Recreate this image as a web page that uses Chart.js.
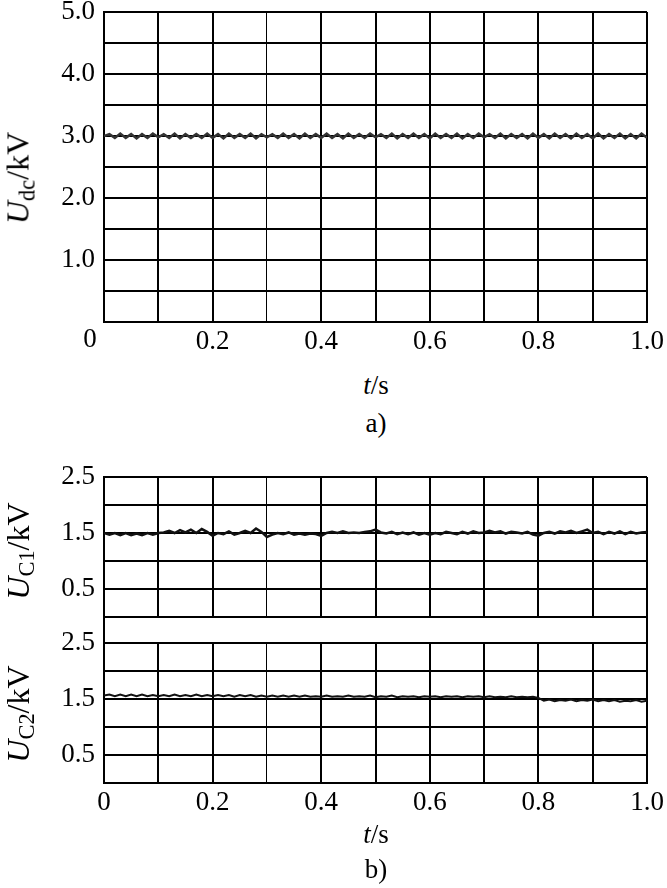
<!DOCTYPE html>
<html>
<head>
<meta charset="utf-8">
<script src="https://cdn.jsdelivr.net/npm/chart.js@4/dist/chart.umd.min.js"></script>
<style>
  body { margin: 0; background: #fff; width: 667px; height: 888px; position: relative; overflow: hidden;
         font-family: "Liberation Serif", "DejaVu Serif", serif; color: #000; }
  canvas { position: absolute; left: 0; }
  .lbl { position: absolute; transform: translate(-50%, -50%); font-size: 27px; white-space: nowrap; line-height: 1; }
  .ytitle { position: absolute; transform: translate(-50%, -50%) rotate(-90deg); font-size: 32px; white-space: nowrap; line-height: 1; }
  .ytitle sub { font-size: 0.7em; vertical-align: -0.25em; }
  #gap { position: absolute; left: 103px; top: 617px; width: 545px; height: 26px; box-sizing: border-box;
         border-left: 2px solid #000; border-right: 2px solid #000; }
</style>
</head>
<body>
<canvas id="dcChart" width="667" height="360" style="top:0"></canvas>
<canvas id="c1Chart" width="667" height="160" style="top:460px"></canvas>
<canvas id="c2Chart" width="667" height="205" style="top:625px"></canvas>
<div id="gap"></div>

<div class="ytitle" style="left:20px;top:178px"><i>U</i><sub>dc</sub>/kV</div>
<div class="lbl" style="left:90px;top:338px">0</div>
<div class="lbl" style="left:376px;top:385px"><i>t</i>/s</div>
<div class="lbl" style="left:376px;top:423px">a)</div>

<div class="ytitle" style="left:20px;top:551px"><i>U</i><sub>C1</sub>/kV</div>
<div class="ytitle" style="left:20px;top:714px"><i>U</i><sub>C2</sub>/kV</div>
<div class="lbl" style="left:376px;top:834px"><i>t</i>/s</div>
<div class="lbl" style="left:376px;top:869px">b)</div>

<script>
// time base (s)
const time = [0,0.01,0.02,0.03,0.04,0.05,0.06,0.07,0.08,0.09,0.1,
  0.11,0.12,0.13,0.14,0.15,0.16,0.17,0.18,0.19,0.2,
  0.21,0.22,0.23,0.24,0.25,0.26,0.27,0.28,0.29,0.3,
  0.31,0.32,0.33,0.34,0.35,0.36,0.37,0.38,0.39,0.4,
  0.41,0.42,0.43,0.44,0.45,0.46,0.47,0.48,0.49,0.5,
  0.51,0.52,0.53,0.54,0.55,0.56,0.57,0.58,0.59,0.6,
  0.61,0.62,0.63,0.64,0.65,0.66,0.67,0.68,0.69,0.7,
  0.71,0.72,0.73,0.74,0.75,0.76,0.77,0.78,0.79,0.8,
  0.81,0.82,0.83,0.84,0.85,0.86,0.87,0.88,0.89,0.9,
  0.91,0.92,0.93,0.94,0.95,0.96,0.97,0.98,0.99,1.0];

// DC link voltage (kV)
const udc = [3.00,3.03,2.97,3.04,2.97,3.03,2.96,3.03,2.97,3.04,2.98,
  3.03,2.97,3.04,2.96,3.03,2.97,3.03,2.97,3.04,2.97,
  3.03,2.96,3.04,2.97,3.03,2.97,3.04,2.96,3.03,2.98,
  3.03,2.97,3.04,2.97,3.03,2.96,3.04,2.97,3.03,2.97,
  3.04,2.97,3.03,2.96,3.04,2.97,3.03,2.97,3.04,2.98,
  3.03,2.97,3.04,2.96,3.03,2.97,3.04,2.97,3.03,2.96,
  3.04,2.97,3.03,2.97,3.04,2.96,3.03,2.97,3.04,2.98,
  3.03,2.97,3.04,2.96,3.03,2.97,3.03,2.96,3.04,2.97,
  3.03,2.96,3.04,2.97,3.03,2.96,3.04,2.97,3.03,2.96,
  3.04,2.96,3.03,2.97,3.04,2.96,3.03,2.96,3.04,2.97];

// capacitor C1 voltage (kV)
const uc1 = [1.50,1.47,1.50,1.46,1.50,1.46,1.49,1.46,1.50,1.47,1.50,
  1.51,1.54,1.50,1.55,1.51,1.56,1.50,1.57,1.52,1.45,
  1.50,1.48,1.53,1.47,1.50,1.54,1.50,1.58,1.52,1.43,
  1.47,1.50,1.48,1.51,1.47,1.49,1.47,1.49,1.48,1.45,
  1.50,1.52,1.50,1.53,1.50,1.51,1.50,1.52,1.53,1.56,
  1.51,1.49,1.52,1.48,1.51,1.48,1.51,1.47,1.50,1.47,
  1.50,1.48,1.52,1.50,1.48,1.52,1.49,1.53,1.50,1.51,
  1.54,1.51,1.53,1.49,1.52,1.51,1.49,1.52,1.47,1.45,
  1.50,1.52,1.49,1.53,1.51,1.54,1.50,1.53,1.56,1.50,
  1.52,1.48,1.52,1.49,1.53,1.48,1.52,1.49,1.51,1.52];

// capacitor C2 voltage (kV)
const uc2 = [1.56,1.58,1.55,1.58,1.55,1.58,1.55,1.58,1.55,1.57,1.55,
  1.57,1.55,1.58,1.55,1.57,1.55,1.58,1.55,1.57,1.55,
  1.57,1.55,1.57,1.54,1.57,1.55,1.57,1.54,1.56,1.54,
  1.56,1.54,1.56,1.54,1.56,1.54,1.56,1.54,1.55,1.54,
  1.56,1.54,1.55,1.54,1.56,1.54,1.55,1.54,1.56,1.53,
  1.55,1.54,1.56,1.53,1.55,1.54,1.55,1.53,1.55,1.54,
  1.55,1.53,1.55,1.54,1.55,1.53,1.55,1.54,1.55,1.53,
  1.55,1.53,1.54,1.53,1.55,1.53,1.54,1.53,1.54,1.52,
  1.47,1.49,1.46,1.48,1.47,1.49,1.46,1.48,1.47,1.49,
  1.46,1.48,1.46,1.48,1.45,1.47,1.46,1.48,1.45,1.47];

const xTickVals = [0.2, 0.4, 0.6, 0.8, 1.0];
const xTickText = ['0.2', '0.4', '0.6', '0.8', '1.0'];
const xTickValsB = [0, 0.2, 0.4, 0.6, 0.8, 1.0];
const xTickTextB = ['0', '0.2', '0.4', '0.6', '0.8', '1.0'];
const dcTickVals = [1, 2, 3, 4, 5];
const dcTickText = ['1.0', '2.0', '3.0', '4.0', '5.0'];
const cTickVals = [0.5, 1.5, 2.5];
const cTickText = ['0.5', '1.5', '2.5'];

const tickFont = { family: '"Liberation Serif", serif', size: 27 };

function lookup(vals, texts, v) {
  const i = vals.findIndex(x => Math.abs(x - v) < 1e-6);
  return i >= 0 ? texts[i] : '';
}

function makeChart(id, values, color, width, yMax, yVals, yText, xVals, xText, pad, xAxisH) {
  const pts = values.map((v, i) => ({ x: time[i], y: v }));
  return new Chart(document.getElementById(id), {
    type: 'line',
    data: {
      datasets: [{
        data: pts,
        borderColor: color,
        borderWidth: width,
        pointRadius: 0,
        tension: 0,
        fill: false
      }]
    },
    options: {
      responsive: false,
      animation: false,
      layout: { autoPadding: false, padding: pad },
      plugins: { legend: { display: false }, tooltip: { enabled: false } },
      scales: {
        x: {
          type: 'linear', min: 0, max: 1,
          border: { display: true, color: '#000', width: 2 },
          grid: {
            color: '#000', drawTicks: false,
            lineWidth: ctx => (ctx.tick && Math.abs(ctx.tick.value - 0.3) < 1e-6) ? 1 : 2
          },
          ticks: {
            display: !!xVals, stepSize: 0.1, autoSkip: false, maxRotation: 0,
            padding: 4, color: '#000', font: tickFont,
            callback: v => xVals ? lookup(xVals, xText, v) : ''
          },
          afterFit: s => { s.height = xAxisH; s.paddingLeft = 0; s.paddingRight = 0; }
        },
        y: {
          min: 0, max: yMax,
          border: { display: true, color: '#000', width: 2 },
          grid: { color: '#000', lineWidth: 2, drawTicks: false },
          ticks: {
            stepSize: 0.5, autoSkip: false, padding: 9, color: '#000', font: tickFont,
            callback: v => lookup(yVals, yText, v)
          },
          afterFit: s => { s.width = 104; s.paddingTop = 0; s.paddingBottom = 0; }
        }
      }
    }
  });
}

makeChart('dcChart', udc, '#333', 2.5, 5, dcTickVals, dcTickText, xTickVals, xTickText,
  { top: 12, right: 20, left: 0, bottom: 0 }, 38);
makeChart('c1Chart', uc1, '#111', 2.5, 2.5, cTickVals, cTickText, null, null,
  { top: 17, right: 20, left: 0, bottom: 3 }, 0);
makeChart('c2Chart', uc2, '#111', 2, 2.5, cTickVals, cTickText, xTickValsB, xTickTextB,
  { top: 18, right: 20, left: 0, bottom: 0 }, 47);
</script>
</body>
</html>
